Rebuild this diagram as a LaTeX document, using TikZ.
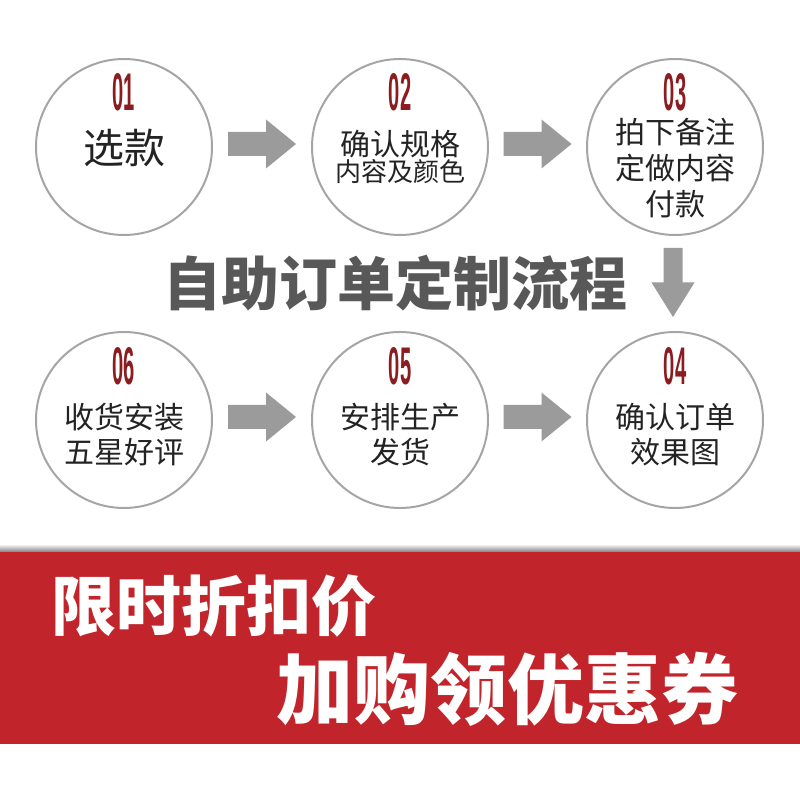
\documentclass[tikz,border=0pt]{standalone}
\usepackage{fontspec}
\usepackage{graphicx}
\usetikzlibrary{calc}
\newfontfamily\cjk{Noto Sans CJK SC}
\newfontfamily\numfont{Liberation Sans}
\definecolor{numred}{RGB}{139,28,32}
\definecolor{ringgray}{RGB}{165,165,165}
\definecolor{arrowgray}{RGB}{155,155,155}
\definecolor{titlegray}{RGB}{88,88,88}
\definecolor{bannerred}{RGB}{193,36,43}
\definecolor{textblack}{RGB}{35,35,35}
\newcommand\stepno[1]{\scalebox{0.38}[1]{#1}}

\tikzset{
  stepring/.style={circle,draw=ringgray,line width=2pt,minimum size=176pt,inner sep=0pt},
  stepnum/.style={text=numred,inner sep=0pt,font=\numfont\bfseries\fontsize{53}{53}\selectfont},
  steplabel/.style={text=textblack,align=center,inner sep=0pt},
  rarrow/.pic={\fill[arrowgray] (-34,-12) -- (4,-12) -- (4,-24.5) -- (34,0) -- (4,24.5) -- (4,12) -- (-34,12) -- cycle;},
  darrow/.pic={\fill[arrowgray] (-9.5,34.5) -- (-9.5,0) -- (-21.5,0) -- (0,-34.5) -- (21.5,0) -- (9.5,0) -- (9.5,34.5) -- cycle;},
}

\begin{document}
\begin{tikzpicture}[x=1pt,y=1pt]
    \useasboundingbox[fill=white] (0,0) rectangle (800,800);

    % rings
    \node[stepring] (s1) at (124,653) {};
    \node[stepring] (s2) at (400,653) {};
    \node[stepring] (s3) at (675,653) {};
    \node[stepring] (s6) at (124,380) {};
    \node[stepring] (s5) at (400,380) {};
    \node[stepring] (s4) at (675,380) {};

    % numbers
    \node[stepnum] (n1) at ($(s1)+(0,55)$) {\stepno{01}};
    \node[stepnum] (n2) at ($(s2)+(0,55)$) {\stepno{02}};
    \node[stepnum] (n3) at ($(s3)+(0,55)$) {\stepno{03}};
    \node[stepnum] (n6) at ($(s6)+(0,54)$) {\stepno{06}};
    \node[stepnum] (n5) at ($(s5)+(0,54)$) {\stepno{05}};
    \node[stepnum] (n4) at ($(s4)+(0,54)$) {\stepno{04}};

    % step texts
    \node[steplabel,font=\cjk\fontsize{41}{41}\selectfont] (t1) at ($(s1)+(0,-1)$) {选款};
    \node[steplabel] (t2) at ($(s2)+(0,-10)$) {\cjk\fontsize{30}{35}\selectfont 确认规格\\ \cjk\fontsize{26}{35}\selectfont 内容及颜色};
    \node[steplabel,font=\cjk\fontsize{30}{36}\selectfont] (t3) at ($(s3)+(0,-21)$) {拍下备注\\定做内容\\付款};
    \node[steplabel,font=\cjk\fontsize{30}{35}\selectfont] (t6) at ($(s6)+(0,-15)$) {收货安装\\五星好评};
    \node[steplabel,font=\cjk\fontsize{30}{35}\selectfont] (t5) at ($(s5)+(0,-15)$) {安排生产\\发货};
    \node[steplabel,font=\cjk\fontsize{30}{35}\selectfont] (t4) at ($(s4)+(0,-15)$) {确认订单\\效果图};

    % block arrows
    \pic at ($(s1)!0.5!(s2)+(0,3)$) {rarrow};
    \pic at ($(s2)!0.5!(s3)+(0,3)$) {rarrow};
    \pic at ($(s6)!0.5!(s5)+(0,3)$) {rarrow};
    \pic at ($(s5)!0.5!(s4)+(0,3)$) {rarrow};
    \pic at (673,517.5) {darrow};

    % title
    \node[text=titlegray,font=\cjk\bfseries\fontsize{58}{58}\selectfont] (title) at (395,517) {自助订单定制流程};

    % banner
    \shade[top color=white!75!gray,bottom color=gray] (0,248) rectangle (800,254);
    \fill[bannerred] (0,56) rectangle (800,248);
    \node[anchor=west,text=white,inner sep=0pt,font=\cjk\bfseries\fontsize{65}{65}\selectfont] (promo) at (51,194) {限时折扣价};
    \node[anchor=west,text=white,inner sep=0pt,font=\cjk\bfseries\fontsize{77}{77}\selectfont] (coupon) at (276,111) {加购领优惠券};
\end{tikzpicture}
\end{document}
